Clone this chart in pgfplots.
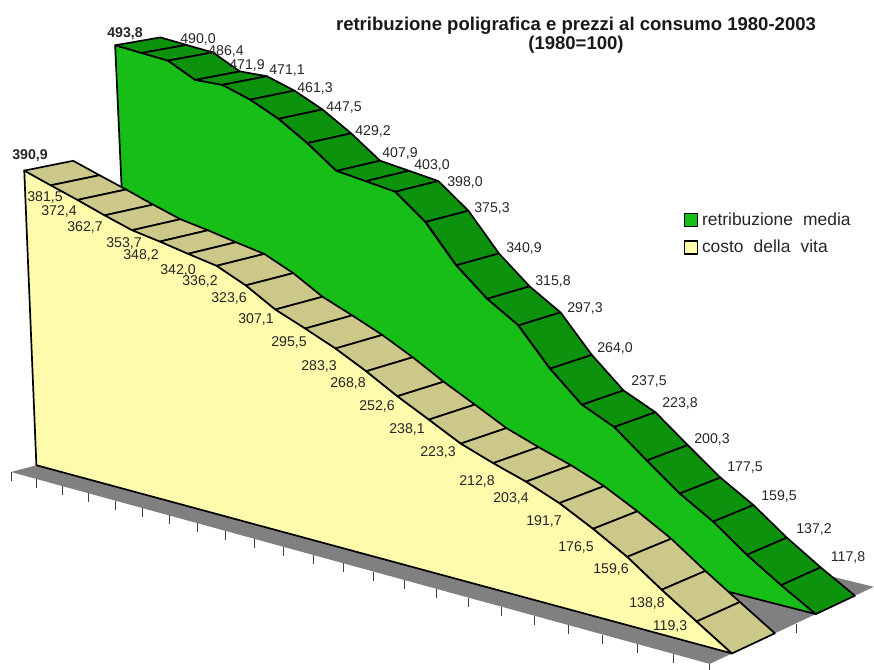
\documentclass[border=0pt]{standalone}
\usepackage{pgfplots}
\usepackage{pgfplotstable}
\usepackage{fontspec}
\setmainfont{Liberation Sans}
\pgfplotsset{compat=1.18}

\definecolor{wallgreen}{RGB}{23,190,23}
\definecolor{topgreen}{RGB}{13,146,13}
\definecolor{wallyellow}{RGB}{255,251,173}
\definecolor{topyellow}{RGB}{204,200,138}
\definecolor{floorgrey}{RGB}{128,128,128}

% i = position along the run (2003 at 0, 1980 at 23), v = index (1980=100),
% lx/ly = where the value label sits. The last row closes the wall at its foot.
\pgfplotstableread{
i  v     lx  ly
0  493.8 125 34
1  490.0 198 39
2  486.4 226 51
3  471.9 247 65
4  471.1 287 71
5  461.3 315 88
6  447.5 344 108
7  429.2 373 131
8  407.9 400 153
9  403.0 432 165
10 398.0 465 182
11 375.3 492 208
12 340.9 524 248
13 315.8 553 281
14 297.3 585 308
15 264.0 615 348
16 237.5 649 381
17 223.8 680 403
18 200.3 712 439
19 177.5 745 468
20 159.5 779 496
21 137.2 814 529
22 117.8 848 557
23 100.0 nan nan
0  100.0 nan nan
}\retribuzione

\pgfplotstableread{
i  v     lx  ly
0  390.9 30  156
1  381.5 45  197
2  372.4 59  211
3  362.7 85  227
4  353.7 124 243
5  348.2 141 255
6  342.0 178 270
7  336.2 200 281
8  323.6 229 298
9  307.1 256 319
10 295.5 289 342
11 283.3 319 366
12 268.8 348 383
13 252.6 377 406
14 238.1 407 429
15 223.3 438 452
16 212.8 477 481
17 203.4 511 498
18 191.7 544 521
19 176.5 576 547
20 159.6 611 569
21 138.8 647 603
22 119.3 670 626
23 100.0 nan nan
0  100.0 nan nan
}\costo

% Floor outline
\pgfplotstableread{
i  D
0  0
23 0
23 4
0  4
}\floorplate

% Top ribbon of one series, one outlined cell per interval
\newcommand{\ribboncells}[4]{%
  \pgfplotsforeachungrouped \k in {0,...,22}{%
    \pgfmathtruncatemacro\kn{\k+1}%
    \pgfplotstablegetelem{\k}{v}\of{#1}\let\va\pgfplotsretval
    \pgfplotstablegetelem{\kn}{v}\of{#1}\let\vb\pgfplotsretval
    \pgfmathsetmacro\xa{projx(\k,#2,\va-100)}\pgfmathsetmacro\ya{projy(\k,#2,\va-100)}%
    \pgfmathsetmacro\xb{projx(\kn,#2,\vb-100)}\pgfmathsetmacro\yb{projy(\kn,#2,\vb-100)}%
    \pgfmathsetmacro\xc{projx(\kn,#3,\vb-100)}\pgfmathsetmacro\yc{projy(\kn,#3,\vb-100)}%
    \pgfmathsetmacro\xd{projx(\k,#3,\va-100)}\pgfmathsetmacro\yd{projy(\k,#3,\va-100)}%
    \addplot[draw=black, fill=#4, line width=1.7bp, line join=round, mark=none]
      coordinates {(\xa,\ya) (\xb,\yb) (\xc,\yc) (\xd,\yd)} -- cycle;
  }%
}

% Front wall of one series, down to the value 100 at the floor
\newcommand{\frontwall}[3]{%
  \addplot[draw=black, fill=#3, line width=1.7bp, line join=round, mark=none]
    table[x expr={projx(\thisrow{i},#2,\thisrow{v}-100)},
          y expr={projy(\thisrow{i},#2,\thisrow{v}-100)}] {#1} -- cycle;
}

% Value labels: printed from the v column of the table
\newcommand{\valuelabels}[1]{%
  \addplot[draw=none, mark=none, point meta=explicit,
    nodes near coords, nodes near coords align=center,
    skip coords between index={0}{1}, skip coords between index={23}{25}]
    table[x=lx, y=ly, meta=v] {#1};
  \addplot[draw=none, mark=none, point meta=explicit,
    nodes near coords, nodes near coords align=center,
    every node near coord/.append style={font=\labelfont\bfseries},
    skip coords between index={1}{25}]
    table[x=lx, y=ly, meta=v] {#1};
}
\newcommand{\labelfont}{\fontsize{14.2}{16}\selectfont}

\begin{document}
\begin{tikzpicture}[
  declare function={
    projw(\a,\b,\c)=1-0.0074*\a+0.02*\b-0.0001*\c;
    projx(\a,\b,\c)=(11+25.13*\a+51.5*\b-0.052*\c-0.0074*\c*(\b-1.5))/projw(\a,\b,\c);
    projy(\a,\b,\c)=(472+3.43*\a-4.25*\b-1.047*\c-0.0074*\c*(\b-1.3))/projw(\a,\b,\c);
  }]
\begin{axis}[
  scale only axis, width=874bp, height=670bp,
  xmin=0, xmax=874, ymin=0, ymax=670, y dir=reverse,
  axis lines=none, clip=false,
  every axis plot/.append style={forget plot},
  every node near coord/.append style={font=\labelfont, text=black!85,
    /pgf/number format/fixed, /pgf/number format/fixed zerofill,
    /pgf/number format/precision=1, /pgf/number format/use comma,
    /pgf/number format/assume math mode=true},
  legend style={at={(683.5/874,1-212/670)}, anchor=north west, draw=none, fill=none,
    font=\fontsize{17.5}{19}\selectfont, text=black!85, row sep=11bp, inner sep=0pt,
    nodes={inner xsep=4bp, inner ysep=1bp}},
  legend cell align=left,
]
\addlegendimage{legend image code/.code={\draw[black, fill=wallgreen, line width=1.3bp] (0bp,-6.5bp) rectangle (13bp,6.5bp);}}
\addlegendentry{retribuzione\hspace{0.3em} media}
\addlegendimage{legend image code/.code={\draw[black, fill=wallyellow, line width=1.3bp] (0bp,-6.5bp) rectangle (13bp,6.5bp);}}
\addlegendentry{costo\hspace{0.3em} della\hspace{0.3em} vita}

% floor
\addplot[draw=none, fill=floorgrey, mark=none]
  table[x expr={projx(\thisrow{i},\thisrow{D},0)}, y expr={projy(\thisrow{i},\thisrow{D},0)}]
  {\floorplate} -- cycle;
% category ticks along the front edge of the floor
\addplot[draw=none, mark=none, skip coords between index={24}{25},
  error bars/.cd, y dir=plus, y fixed=9, error mark=none,
  error bar style={line width=0.8bp, draw=black!75}]
  table[x expr={projx(\thisrow{i},0,0)}, y expr={projy(\thisrow{i},0,0)}] {\costo};
% series tick on the depth edge
\addplot[draw=none, mark=none,
  error bars/.cd, y dir=plus, y fixed=9, error mark=none,
  error bar style={line width=0.8bp, draw=black!75}]
  coordinates {(796,623.5)};

% rear series
\frontwall{\retribuzione}{2.5}{wallgreen}
\ribboncells{\retribuzione}{2.5}{3.5}{topgreen}
% front series
\frontwall{\costo}{0.5}{wallyellow}
\ribboncells{\costo}{0.5}{1.5}{topyellow}

\valuelabels{\retribuzione}
\valuelabels{\costo}

\node[font=\fontsize{18.6}{19}\selectfont\bfseries, align=center, text=black!90]
  at (axis cs:576,35.5) {retribuzione poligrafica e prezzi al consumo 1980-2003\\(1980=100)};
\end{axis}
\pgfresetboundingbox
\path (0,0) rectangle (874bp,670bp);
\end{tikzpicture}
\end{document}
